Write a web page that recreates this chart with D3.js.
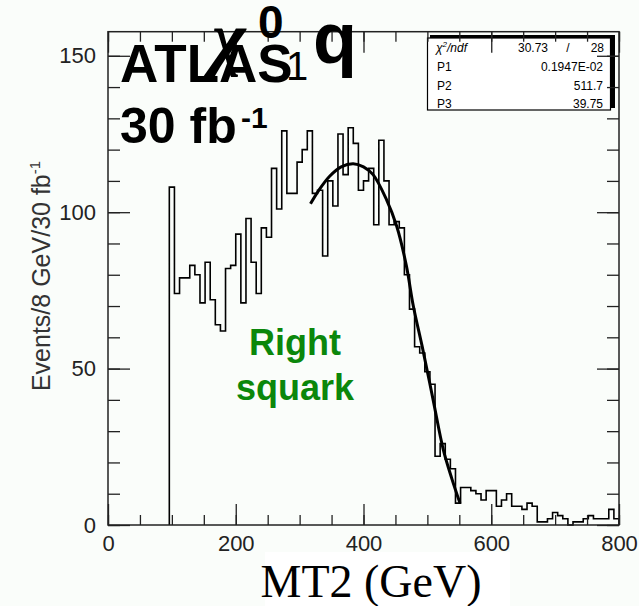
<!DOCTYPE html>
<html>
<head>
<meta charset="utf-8">
<script src="https://cdn.jsdelivr.net/npm/d3@7"></script>
<style>
	body { margin: 0; background: #fafdfa; }
	svg { display: block; font-family: "Liberation Sans", Arial, sans-serif; }
</style>
</head>
<body>
<script>
// MT2 histogram, 8 GeV bins starting at 96 GeV
var binLow = d3.range(96, 800, 8);
var counts = [108, 74, 79, 79, 83, 80, 71, 84, 72, 64, 62, 82, 83, 93, 71, 98,
	84, 74, 95, 92, 114, 101, 126, 106, 106, 116, 120, 126, 106, 107, 86, 110,
	102, 125, 112, 127, 122, 107, 110, 114, 96, 123, 110, 96, 97, 95, 80, 69,
	57, 55, 49, 45, 22, 26, 21, 18, 7, 12, 12, 11, 10, 8, 11, 11,
	6, 8, 10, 6, 6, 5, 7, 6, 1, 1, 2, 4, 3, 2, 0, 1,
	1, 2, 3, 2, 2, 2, 5, 2];

// fit curve
var fitX = [317, 330, 347, 365, 384, 400, 415, 436, 452, 467, 478, 493, 509, 525, 538, 551];
var fitY = [102.7, 107, 111.5, 114.5, 115.5, 114.5, 112, 104, 95.5, 83, 70, 56, 40, 24, 15, 7];

var xMajor = [0, 200, 400, 600, 800];
var xMinor = d3.range(0, 801, 50);
var yMajor = [0, 50, 100, 150];
var yMinor = d3.range(0, 151, 10);

var statNames = ["P1", "P2", "P3"];
var statValues = ["0.1947E-02", "511.7", "39.75"];

var width = 639, height = 606;
var svg = d3.select("body")
	.append("svg")
		.attr("width", width)
		.attr("height", height);

var x = d3.scaleLinear().domain([0, 800]).range([108, 619]);
var y = d3.scaleLinear().domain([0, 157.7]).range([525, 31.7]);

// white patch behind the x title
svg.append("rect")
		.attr("x", 265).attr("y", 552)
		.attr("width", 245).attr("height", 54)
		.attr("fill", "white");

// histogram outline
var pts = [[96, 0]];
binLow.forEach(function(b, i) { pts.push([b, counts[i]]); });
pts.push([800, counts[counts.length - 1]]);
pts.push([800, 0]);

svg.append("path")
		.attr("d", d3.line()
			.x(function(d) { return x(d[0]); })
			.y(function(d) { return y(d[1]); })
			.curve(d3.curveStepAfter)(pts))
		.attr("fill", "none")
		.attr("stroke", "black")
		.attr("stroke-width", 1.6);

// fit
svg.append("path")
		.attr("d", d3.line()
			.x(function(d, i) { return x(fitX[i]); })
			.y(function(d) { return y(d); })
			.curve(d3.curveCatmullRom)(fitY))
		.attr("fill", "none")
		.attr("stroke", "black")
		.attr("stroke-width", 3);

// stats box with shadow on top/right
svg.append("rect")
		.attr("x", 430).attr("y", 35)
		.attr("width", 185).attr("height", 73)
		.attr("fill", "black");
svg.append("rect")
		.attr("x", 427.5).attr("y", 38)
		.attr("width", 183).attr("height", 72)
		.attr("fill", "white")
		.attr("stroke", "black")
		.attr("stroke-width", 1.2);

var chi = svg.append("text")
		.attr("x", 436).attr("y", 52)
		.attr("font-size", 12)
		.attr("font-style", "italic");
chi.append("tspan").text("χ");
chi.append("tspan").attr("dy", -5).attr("font-size", 8).text("2");
chi.append("tspan").attr("dy", 5).text("/ndf");
svg.append("text").attr("x", 548).attr("y", 52).attr("font-size", 12)
		.attr("text-anchor", "end").text("30.73");
svg.append("text").attr("x", 568).attr("y", 52).attr("font-size", 12)
		.attr("text-anchor", "middle").text("/");
svg.append("text").attr("x", 604).attr("y", 52).attr("font-size", 12)
		.attr("text-anchor", "end").text("28");

svg.append("g")
	.selectAll("text")
		.data(statNames)
	.enter()
	.append("text")
		.attr("x", 437)
		.attr("y", function(d, i) { return 71 + i * 18.5; })
		.attr("font-size", 12)
		.text(function(d) { return d; });
svg.append("g")
	.selectAll("text")
		.data(statValues)
	.enter()
	.append("text")
		.attr("x", 603)
		.attr("y", function(d, i) { return 71 + i * 18.5; })
		.attr("font-size", 12)
		.attr("text-anchor", "end")
		.text(function(d) { return d; });

// axes: ticks on all four sides, pointing inward
function styleAxis(g) {
	g.attr("font-family", null).attr("font-size", null);
	g.select(".domain").remove();
	g.selectAll("line").attr("stroke", "#222").attr("stroke-width", 1.3);
	g.selectAll("text")
		.attr("font-size", 22)
		.attr("fill", "#222");
}

svg.append("g").attr("transform", "translate(0,525)")
		.call(d3.axisBottom(x).tickValues(xMinor).tickSize(-10).tickFormat(""))
		.call(styleAxis);
svg.append("g").attr("transform", "translate(0,525)")
		.call(d3.axisBottom(x).tickValues(xMajor).tickSize(-21).tickPadding(10).tickFormat(d3.format("d")))
		.call(styleAxis);
svg.append("g").attr("transform", "translate(0,31.7)")
		.call(d3.axisTop(x).tickValues(xMinor).tickSize(-10).tickFormat(""))
		.call(styleAxis);
svg.append("g").attr("transform", "translate(0,31.7)")
		.call(d3.axisTop(x).tickValues(xMajor).tickSize(-21).tickFormat(""))
		.call(styleAxis);
svg.append("g").attr("transform", "translate(108,0)")
		.call(d3.axisLeft(y).tickValues(yMinor).tickSize(-12).tickFormat(""))
		.call(styleAxis);
svg.append("g").attr("transform", "translate(108,0)")
		.call(d3.axisLeft(y).tickValues(yMajor).tickSize(-22).tickPadding(12).tickFormat(d3.format("d")))
		.call(styleAxis);
svg.append("g").attr("transform", "translate(619,0)")
		.call(d3.axisRight(y).tickValues(yMinor).tickSize(-12).tickFormat(""))
		.call(styleAxis);
svg.append("g").attr("transform", "translate(619,0)")
		.call(d3.axisRight(y).tickValues(yMajor).tickSize(-22).tickFormat(""))
		.call(styleAxis);

// frame
svg.append("rect")
		.attr("x", x(0)).attr("y", y(157.7))
		.attr("width", x(800) - x(0))
		.attr("height", y(0) - y(157.7))
		.attr("fill", "none")
		.attr("stroke", "#222")
		.attr("stroke-width", 1.5);

// axis titles
var yTitle = svg.append("text")
		.attr("transform", "translate(50,276) rotate(-90)")
		.attr("text-anchor", "middle")
		.attr("font-size", 25)
		.attr("fill", "#333");
yTitle.append("tspan").text("Events/8 GeV/30 fb");
yTitle.append("tspan").attr("dy", -10).attr("font-size", 15).text("-1");

svg.append("text")
		.attr("x", 371).attr("y", 597)
		.attr("text-anchor", "middle")
		.attr("font-size", 46)
		.style("font-family", "'Liberation Serif', 'Times New Roman', serif")
		.text("MT2 (GeV)");

// labels in the plot
svg.append("text").attr("x", 120).attr("y", 82)
		.attr("font-size", 53).attr("font-weight", "bold").text("ATLAS");
svg.append("text").attr("x", 120).attr("y", 143)
		.attr("font-size", 50).attr("font-weight", "bold").text("30 fb");
svg.append("text").attr("x", 241).attr("y", 128)
		.attr("font-size", 30).attr("font-weight", "bold").text("-1");

svg.append("text").attr("x", 212).attr("y", 62)
		.attr("font-size", 72).attr("font-weight", "bold").attr("font-style", "italic")
		.style("font-family", "'Liberation Serif', 'Times New Roman', serif")
		.text("χ");
svg.append("text").attr("x", 258).attr("y", 38)
		.attr("font-size", 46).attr("font-weight", "bold").text("0");
svg.append("text").attr("x", 286).attr("y", 80)
		.attr("font-size", 40).text("1");
svg.append("text").attr("x", 313).attr("y", 63)
		.attr("font-size", 72).attr("font-weight", "bold").text("q");

svg.append("text").attr("x", 295).attr("y", 355)
		.attr("text-anchor", "middle")
		.attr("font-size", 36).attr("font-weight", "bold")
		.attr("fill", "#0b870b").text("Right");
svg.append("text").attr("x", 295).attr("y", 400)
		.attr("text-anchor", "middle")
		.attr("font-size", 36).attr("font-weight", "bold")
		.attr("fill", "#0b870b").text("squark");
</script>
</body>
</html>
